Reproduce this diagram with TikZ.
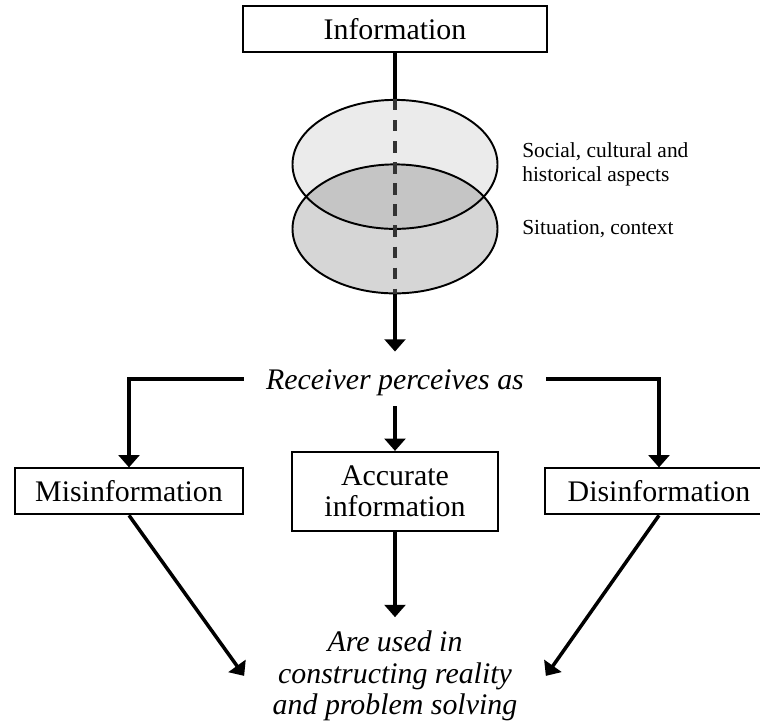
\documentclass[tikz,border=0pt]{standalone}
\usepackage{fontspec}
\setmainfont{Liberation Serif}
\usetikzlibrary{positioning, arrows.meta, shapes.geometric}
\newcommand{\stagefont}{\fontsize{17}{18}\selectfont}
\newcommand{\notefont}{\fontsize{12.2}{13.2}\selectfont}
\tikzset{
>={Triangle[width=11.8pt, length=7pt]}, % bold triangular heads
flow/.style={->, line width=2pt}, % the arrows between the stages
stagebox/.style={draw, line width=1.1pt, minimum height=0.92cm, font=\stagefont}, % boxed stages
stage/.style={font=\stagefont\itshape, align=center, inner xsep=0pt}, % stages written without a box
layer/.style={ellipse, draw, line width=1.1pt, minimum width=4.1cm, minimum height=2.58cm, inner sep=0pt}, % the two filters
aspect/.style={font=\notefont, align=left, inner sep=0pt}, % notes beside the filters
}
\begin{document}
\begin{tikzpicture}
    \useasboundingbox (0,0) rectangle (15.2,-14.56);
    \node[stagebox, minimum width=6.07cm] (info) at (7.9,-0.588) {Information};

    \node[layer, fill=black!8, node distance=2.7cm, below of=info] (social) {};
    \node[layer, fill=black, fill opacity=0.16, node distance=1.29cm, below of=social] (situation) {};
    \node[aspect, right=0.47cm of social] (socialtext) {Social, cultural and\\historical aspects};
    \node[aspect, right=0.47cm of situation] (situationtext) {Situation, context};

    \node[stage, text height=18.5pt, text depth=6.2pt, minimum width=6.04cm, inner ysep=3pt, node distance=3cm, below of=situation] (recv) {Receiver perceives as};

    \node[stagebox, align=center, minimum width=4.12cm, minimum height=1.58cm, node distance=2.25cm, below of=recv] (accurate) {Accurate\\information};
    \node[stagebox, minimum width=4.56cm, node distance=5.32cm, left of=accurate] (misinfo) {Misinformation};
    \node[stagebox, minimum width=4.56cm, node distance=5.28cm, right of=accurate] (disinfo) {Disinformation};

    \node[stage, minimum width=6.02cm, inner ysep=7.5pt, node distance=3.69cm, below of=accurate] (used) {Are used in\\constructing reality\\and problem solving};

    \draw[line width=2pt] (info) -- (social.north);
    \draw[line width=1.9pt, black!80, dash pattern=on 6.5pt off 5.5pt] (social.north) -- (situation.south);
    \draw[flow] (situation.south) -- (recv);
    %
    \draw[flow] (recv.west) -| (misinfo);
    \draw[flow] (recv) -- (accurate);
    \draw[flow] (recv.east) -| (disinfo);
    %
    \draw[flow] (misinfo.south) -- (used.west);
    \draw[flow] (accurate) -- (used);
    \draw[flow] (disinfo.south) -- (used.east);
\end{tikzpicture}
\end{document}
